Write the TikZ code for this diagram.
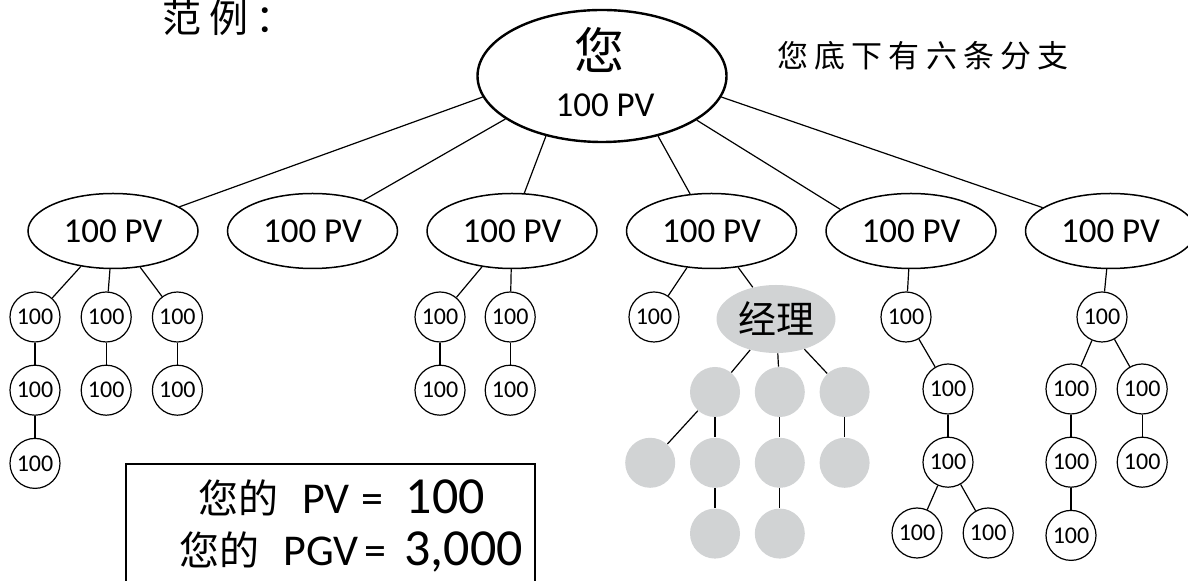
\documentclass[tikz,border=0pt]{standalone}
\usepackage{fontspec}
\setmainfont{Carlito}
\newfontfamily\cjk{Noto Sans CJK SC}
\newfontfamily\cjkwide[LetterSpace=20]{Noto Sans CJK SC}
\usetikzlibrary{shapes.geometric, positioning}
\definecolor{mgrgray}{HTML}{D1D3D4}
\tikzstyle{rootnode} = [ellipse, draw, line width=1.2pt, minimum width=124.5pt, minimum height=66pt]
\tikzstyle{branch} = [ellipse, draw, line width=0.75pt, minimum width=85pt, minimum height=37.5pt, inner sep=0pt, font=\fontsize{17.5}{20}\selectfont]
\tikzstyle{pvc} = [circle, draw, line width=0.6pt, minimum size=25pt, inner sep=0pt, font=\fontsize{12}{14}\selectfont]
\tikzstyle{mgr} = [ellipse, fill=mgrgray, minimum width=59.5pt, minimum height=34pt, inner sep=0pt, font=\cjk\fontsize{19}{22}\selectfont]
\tikzstyle{ghost} = [circle, fill=mgrgray, minimum size=25pt, inner sep=0pt]
\tikzstyle{link} = [line width=0.6pt]
\tikzstyle{sumbox} = [rectangle, draw, line width=1pt, minimum width=204.5pt, minimum height=80pt]
\tikzstyle{sumline} = [anchor=west, inner sep=0pt, font=\fontsize{22}{26}\selectfont]

\begin{document}
\begin{tikzpicture}[x=0.5pt, y=-0.5pt, node distance=11pt and 10pt]

	\useasboundingbox (0,0) rectangle (1188,581);
	\clip (0,0) rectangle (1188,581);

	% Title and note
	\node (title) [anchor=west, inner sep=0pt, font=\cjkwide\fontsize{19.5}{22}\selectfont] at (162,18) {范例：};
	\node (note) [anchor=west, inner sep=0pt, font=\cjkwide\fontsize{15.5}{18}\selectfont] at (777,56) {您底下有六条分支};

	% Root
	\node (you) [rootnode] at (602,76) {};
	\node (youname) [inner sep=0pt, font=\cjk\fontsize{25}{28}\selectfont] at (599,50) {您};
	\node (youpv) [inner sep=0pt, font=\fontsize{17.5}{20}\selectfont] at (605,105) {100 PV};

	% Six branches
	\node (pv1) [branch] at (113,231) {100 PV};
	\node (pv2) [branch, right=14pt of pv1] {100 PV};
	\node (pv3) [branch, right=14pt of pv2] {100 PV};
	\node (pv4) [branch, right=14pt of pv3] {100 PV};
	\node (pv5) [branch, right=14pt of pv4] {100 PV};
	\node (pv6) [branch, right=14pt of pv5] {100 PV};

	% Branch 1
	\node (a1) [pvc] at (35,317) {100};
	\node (a2) [pvc, right=of a1] {100};
	\node (a3) [pvc, right=of a2] {100};
	\node (a4) [pvc, below=of a1] {100};
	\node (a5) [pvc, below=of a4] {100};
	\node (a6) [pvc, below=of a2] {100};
	\node (a7) [pvc, below=of a3] {100};

	% Branch 3
	\node (b1) [pvc] at (440,317) {100};
	\node (b2) [pvc, right=9.5pt of b1] {100};
	\node (b3) [pvc, below=of b1] {100};
	\node (b4) [pvc, below=of b2] {100};

	% Branch 4 with manager
	\node (d1) [pvc] at (654,317) {100};
	\node (boss) [mgr] at (776,319) {经理};
	\node (g1) [ghost] at (715,392) {};
	\node (g2) [ghost, right=7pt of g1] {};
	\node (g3) [ghost, right=7pt of g2] {};
	\node (g5) [ghost, below=10pt of g1] {};
	\node (g4) [ghost, left=7pt of g5] {};
	\node (g6) [ghost, below=10pt of g2] {};
	\node (g7) [ghost, below=10pt of g3] {};
	\node (g8) [ghost, below=10pt of g5] {};
	\node (g9) [ghost, below=10pt of g6] {};

	% Branch 5
	\node (e1) [pvc] at (906,317) {100};
	\node (e2) [pvc] at (948,389) {100};
	\node (e3) [pvc, below=of e2] {100};
	\node (e4) [pvc] at (917,533) {100};
	\node (e5) [pvc, right=of e4] {100};

	% Branch 6
	\node (f1) [pvc] at (1102,317) {100};
	\node (f2) [pvc] at (1071,389) {100};
	\node (f3) [pvc, right=of f2] {100};
	\node (f4) [pvc, below=of f2] {100};
	\node (f5) [pvc, below=of f3] {100};
	\node (f6) [pvc, below=of f4] {100};

	% Summary box
	\node (sum) [sumbox, anchor=north] at (330.5,463) {};
	\node (sumpv) [sumline] at (198,498) {{\cjk\fontsize{20}{24}\selectfont 您的}\hspace{12pt}PV\hspace{6pt}=\hspace{11pt}{\fontsize{26}{30}\selectfont 100}};
	\node (sumpgv) [sumline] at (179,552) {{\cjk\fontsize{20}{24}\selectfont 您的}\hspace{12pt}PGV\hspace{3pt}=\hspace{9pt}{\fontsize{26}{30}\selectfont 3,000}};

	% Lines - root
	\draw[link] (you.190) -- (pv1.20);
	\draw[link] (you.204) -- (pv2.31);
	\draw[link] (you.227) -- (pv3.72);
	\draw[link] (you.313) -- (pv4.120);
	\draw[link] (you.335) -- (pv5.163);
	\draw[link] (you.350) -- (pv6.161);

	% Lines - branch 1
	\draw[link] (pv1) -- (a1);
	\draw[link] (pv1) -- (a2);
	\draw[link] (pv1) -- (a3);
	\draw[link] (a1) -- (a4);
	\draw[link] (a4) -- (a5);
	\draw[link] (a2) -- (a6);
	\draw[link] (a3) -- (a7);

	% Lines - branch 3
	\draw[link] (pv3) -- (b1);
	\draw[link] (pv3) -- (b2);
	\draw[link] (b1) -- (b3);
	\draw[link] (b2) -- (b4);

	% Lines - branch 4
	\draw[link] (pv4) -- (d1);
	\draw[link] (pv4) -- (boss);
	\draw[link] (boss) -- (g1);
	\draw[link] (boss) -- (g2);
	\draw[link] (boss) -- (g3);
	\draw[link] (g1) -- (g4);
	\draw[link] (g1) -- (g5);
	\draw[link] (g2) -- (g6);
	\draw[link] (g3) -- (g7);
	\draw[link] (g5) -- (g8);
	\draw[link] (g6) -- (g9);

	% Lines - branch 5
	\draw[link] (pv5) -- (e1);
	\draw[link] (e1) -- (e2);
	\draw[link] (e2) -- (e3);
	\draw[link] (e3) -- (e4);
	\draw[link] (e3) -- (e5);

	% Lines - branch 6
	\draw[link] (pv6) -- (f1);
	\draw[link] (f1) -- (f2);
	\draw[link] (f1) -- (f3);
	\draw[link] (f2) -- (f4);
	\draw[link] (f3) -- (f5);
	\draw[link] (f4) -- (f6);

\end{tikzpicture}
\end{document}
